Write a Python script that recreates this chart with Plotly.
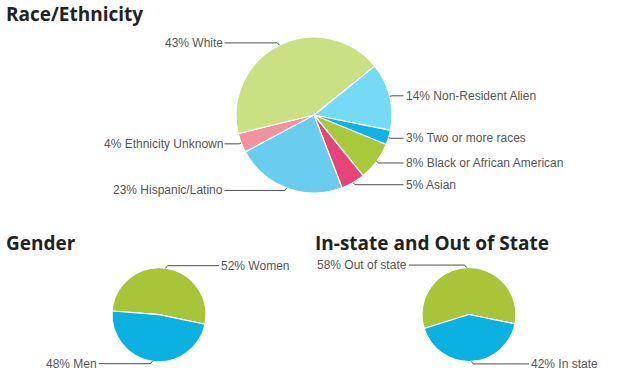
import math
import plotly.graph_objects as go

# ---------------- data ----------------
race_labels = ["Non-Resident Alien", "Two or more races", "Black or African American",
               "Asian", "Hispanic/Latino", "Ethnicity Unknown", "White"]
race_values = [14, 3, 8, 5, 23, 4, 43]
race_colors = ["#74daf6", "#0fb2e2", "#a8c93c", "#e8437b", "#68cdee", "#f3929f", "#c9e083"]

gender_labels = ["Women", "Men"]
gender_values = [52, 48]
gender_colors = ["#a8c53a", "#0bb1e1"]

state_labels = ["Out of state", "In state"]
state_values = [58, 42]
state_colors = ["#a8c53a", "#0bb1e1"]

titles = ["Race/Ethnicity", "Gender", "In-state and Out of State"]

# ---------------- layout helpers ----------------
W, H = 619, 388
LABEL_FONT = dict(family="Liberation Sans, Arial, sans-serif", size=12, color="#555555")
TITLE_FONT = dict(family="Open Sans, sans-serif", size=19, color="#222222")
LINE_COLOR = "#4d4d4d"


def px(x):
    return x / W


def py(y):
    return 1 - y / H


fig = go.Figure()
shapes = []
annotations = []


def add_pie(labels, values, colors, cx, cy, r, rotation, gap):
    fig.add_trace(go.Pie(
        labels=labels, values=values, sort=False, direction="clockwise",
        rotation=((rotation + 180) % 360) - 180,
        marker=dict(colors=colors, line=dict(color="white", width=1.2)),
        textinfo="none", hoverinfo="label+percent", showlegend=False,
        domain=dict(x=[px(cx - r), px(cx + r)], y=[py(cy + r), py(cy - r)]),
    ))
    total = sum(values)
    start = rotation
    for lab, v in zip(labels, values):
        span = 360 * v / total
        mid = math.radians(start + span / 2)
        start += span
        ex = cx + r * math.sin(mid)
        ey = cy - r * math.cos(mid)
        side = 1 if math.sin(mid) >= 0 else -1
        ly = ey - 2.5 * math.cos(mid)
        lx = cx + side * (r + gap)
        bend_x = ex + side * 2
        shapes.append(dict(
            type="path", xref="paper", yref="paper",
            path=f"M {px(ex)},{py(ey)} L {px(bend_x)},{py(ly)} L {px(lx - side * 2)},{py(ly)}",
            line=dict(color=LINE_COLOR, width=1),
        ))
        annotations.append(dict(
            text=f"{round(100 * v / total)}% {lab}", xref="paper", yref="paper",
            x=px(lx - side * 2), y=py(ly), xanchor="left" if side > 0 else "right",
            yanchor="middle", showarrow=False, font=LABEL_FONT,
        ))


add_pie(race_labels, race_values, race_colors, 314, 115, 78, 51, 13.5)
add_pie(gender_labels, gender_values, gender_colors, 159, 314.7, 47, 274.5, 15)
add_pie(state_labels, state_values, state_colors, 469, 314.5, 47, 252.7, 15)

for t, (tx, ty) in zip(titles, [(4, 14), (4, 243), (313, 243)]):
    annotations.append(dict(
        text=f"<b>{t}</b>", xref="paper", yref="paper", x=px(tx), y=py(ty),
        xanchor="left", yanchor="middle", showarrow=False, font=TITLE_FONT,
    ))

fig.update_layout(
    width=W, height=H, margin=dict(l=0, r=0, t=0, b=0),
    paper_bgcolor="white", plot_bgcolor="white",
    shapes=shapes, annotations=annotations,
)

fig.write_html("out.html", config={"displayModeBar": False},
               post_script="document.body.style.margin='0';")
